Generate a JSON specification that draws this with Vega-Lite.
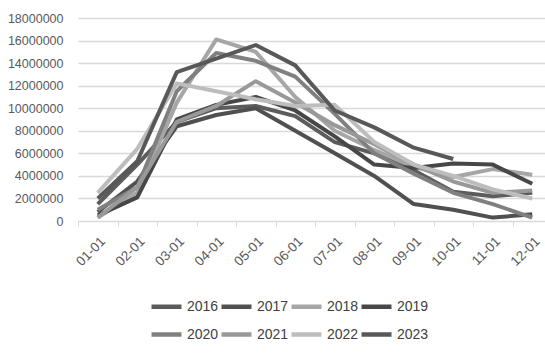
{
  "$schema": "https://vega.github.io/schema/vega-lite/v6.json",
  "autosize": {"type": "none"},
  "padding": {"left": 78, "top": 18, "right": 0, "bottom": 134},
  "width": 474,
  "height": 203,
  "background": "white",
  "config": {"view": {"stroke": null}, "font": "Liberation Sans"},
  "data": {"values": [
    {"m":"01-01","y":"2016","v":1500000},{"m":"02-01","y":"2016","v":5000000},{"m":"03-01","y":"2016","v":8800000},{"m":"04-01","y":"2016","v":10000000},{"m":"05-01","y":"2016","v":10200000},{"m":"06-01","y":"2016","v":9300000},{"m":"07-01","y":"2016","v":7000000},{"m":"08-01","y":"2016","v":6000000},{"m":"09-01","y":"2016","v":4500000},{"m":"10-01","y":"2016","v":2600000},{"m":"11-01","y":"2016","v":2200000},{"m":"12-01","y":"2016","v":2500000},
    {"m":"01-01","y":"2017","v":800000},{"m":"02-01","y":"2017","v":3500000},{"m":"03-01","y":"2017","v":8400000},{"m":"04-01","y":"2017","v":9400000},{"m":"05-01","y":"2017","v":10000000},{"m":"06-01","y":"2017","v":8000000},{"m":"07-01","y":"2017","v":6000000},{"m":"08-01","y":"2017","v":4000000},{"m":"09-01","y":"2017","v":1500000},{"m":"10-01","y":"2017","v":1000000},{"m":"11-01","y":"2017","v":300000},{"m":"12-01","y":"2017","v":600000},
    {"m":"01-01","y":"2018","v":300000},{"m":"02-01","y":"2018","v":2500000},{"m":"03-01","y":"2018","v":10500000},{"m":"04-01","y":"2018","v":16100000},{"m":"05-01","y":"2018","v":15000000},{"m":"06-01","y":"2018","v":11000000},{"m":"07-01","y":"2018","v":8000000},{"m":"08-01","y":"2018","v":6300000},{"m":"09-01","y":"2018","v":4800000},{"m":"10-01","y":"2018","v":3900000},{"m":"11-01","y":"2018","v":4600000},{"m":"12-01","y":"2018","v":4100000},
    {"m":"01-01","y":"2019","v":500000},{"m":"02-01","y":"2019","v":2100000},{"m":"03-01","y":"2019","v":9000000},{"m":"04-01","y":"2019","v":10300000},{"m":"05-01","y":"2019","v":11000000},{"m":"06-01","y":"2019","v":9800000},{"m":"07-01","y":"2019","v":7500000},{"m":"08-01","y":"2019","v":5000000},{"m":"09-01","y":"2019","v":4700000},{"m":"10-01","y":"2019","v":5100000},{"m":"11-01","y":"2019","v":5000000},{"m":"12-01","y":"2019","v":3300000},
    {"m":"01-01","y":"2020","v":1000000},{"m":"02-01","y":"2020","v":3000000},{"m":"03-01","y":"2020","v":11500000},{"m":"04-01","y":"2020","v":14900000},{"m":"05-01","y":"2020","v":14200000},{"m":"06-01","y":"2020","v":12800000},{"m":"07-01","y":"2020","v":9500000},{"m":"08-01","y":"2020","v":6000000},{"m":"09-01","y":"2020","v":4200000},{"m":"10-01","y":"2020","v":2500000},{"m":"11-01","y":"2020","v":1500000},{"m":"12-01","y":"2020","v":300000},
    {"m":"01-01","y":"2021","v":300000},{"m":"02-01","y":"2021","v":3000000},{"m":"03-01","y":"2021","v":8800000},{"m":"04-01","y":"2021","v":10200000},{"m":"05-01","y":"2021","v":12400000},{"m":"06-01","y":"2021","v":10500000},{"m":"07-01","y":"2021","v":8500000},{"m":"08-01","y":"2021","v":6800000},{"m":"09-01","y":"2021","v":5000000},{"m":"10-01","y":"2021","v":3500000},{"m":"11-01","y":"2021","v":2500000},{"m":"12-01","y":"2021","v":2700000},
    {"m":"01-01","y":"2022","v":2500000},{"m":"02-01","y":"2022","v":6400000},{"m":"03-01","y":"2022","v":12200000},{"m":"04-01","y":"2022","v":11500000},{"m":"05-01","y":"2022","v":10800000},{"m":"06-01","y":"2022","v":10200000},{"m":"07-01","y":"2022","v":10300000},{"m":"08-01","y":"2022","v":7000000},{"m":"09-01","y":"2022","v":5000000},{"m":"10-01","y":"2022","v":4000000},{"m":"11-01","y":"2022","v":2800000},{"m":"12-01","y":"2022","v":2000000},
    {"m":"01-01","y":"2023","v":2000000},{"m":"02-01","y":"2023","v":5300000},{"m":"03-01","y":"2023","v":13200000},{"m":"04-01","y":"2023","v":14400000},{"m":"05-01","y":"2023","v":15600000},{"m":"06-01","y":"2023","v":13800000},{"m":"07-01","y":"2023","v":9800000},{"m":"08-01","y":"2023","v":8300000},{"m":"09-01","y":"2023","v":6500000},{"m":"10-01","y":"2023","v":5500000}
  ]},
  "mark": {"type": "line", "strokeWidth": 4, "strokeJoin": "round"},
  "encoding": {
    "x": {
      "field": "m", "type": "ordinal", "title": null,
      "scale": {"type": "band", "paddingInner": 0, "paddingOuter": 0},
      "axis": {
        "tickBand": "extent", "labelAngle": -45, "labelFontSize": 13.5, "labelColor": "#595959",
        "domainColor": "#d9d9d9", "tickColor": "#d9d9d9", "tickSize": 5, "labelPadding": 8, "grid": false
      }
    },
    "y": {
      "field": "v", "type": "quantitative", "title": null,
      "scale": {"domain": [0, 18000000], "nice": false},
      "axis": {
        "values": [0,2000000,4000000,6000000,8000000,10000000,12000000,14000000,16000000,18000000],
        "format": "d", "domain": false, "ticks": false, "labelPadding": 15,
        "labelFontSize": 12.5, "labelColor": "#595959", "gridColor": "#d9d9d9", "gridWidth": 1.5
      }
    },
    "color": {
      "field": "y", "type": "nominal",
      "scale": {"domain": ["2016","2017","2018","2019","2020","2021","2022","2023"],
                "range": ["#5c5c5c","#505050","#a6a6a6","#474747","#808080","#999999","#bdbdbd","#585858"]},
      "legend": {
        "title": null, "orient": "none", "legendX": 71, "legendY": 271, "direction": "horizontal", "columns": 4,
        "symbolType": "stroke", "symbolSize": 900, "symbolStrokeWidth": 4.5, "labelFontSize": 14,
        "labelColor": "#404040", "labelOffset": 3, "columnPadding": -13, "rowPadding": 1
      }
    }
  }
}
